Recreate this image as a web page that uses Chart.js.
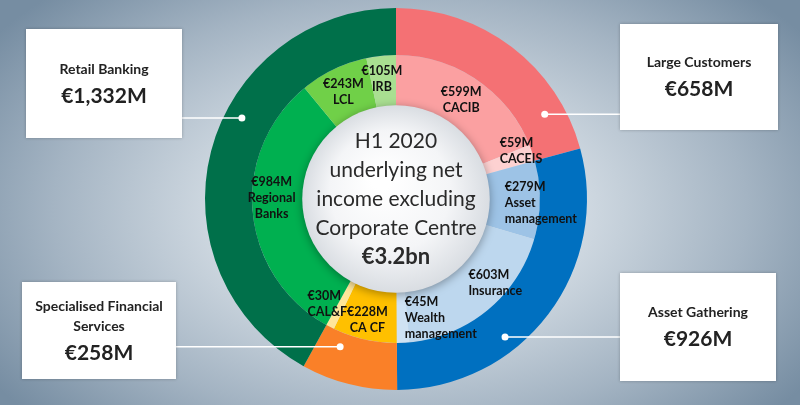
<!DOCTYPE html>
<html lang="en">
<head>
    <meta charset="UTF-8">
    <title>H1 2020 underlying net income</title>
    <script src="https://cdn.jsdelivr.net/npm/chart.js"></script>
    <style>
        html, body { margin: 0; padding: 0; }
        body {
            width: 800px; height: 405px; overflow: hidden; position: relative;
            font-family: Lato, "Open Sans", sans-serif;
            background: radial-gradient(ellipse 62% 75% at 50% 52%, #e4eaef 0%, #d2dbe3 35%, #a4b4c3 70%, #768da2 100%);
        }
        #chart { position: absolute; left: 0; top: 0; }
        .box {
            position: absolute; background: #fff; color: #222;
            box-shadow: 0 0 3px rgba(0,0,0,0.25);
            display: flex; flex-direction: column; justify-content: center; align-items: center;
            text-align: center;
        }
        .box .title { font-size: 14px; font-weight: bold; line-height: 20px; }
        .box .value { font-size: 21px; font-weight: bold; line-height: 28px; margin-top: 2px; }
        #centre {
            position: absolute; left: 296px; width: 200px; top: 125px;
            text-align: center; color: #2a2a2a; font-size: 21px; line-height: 29px;
        }
        #centre b { font-size: 22px; }
    </style>
</head>
<body>
    <canvas id="chart" width="800" height="405"></canvas>
    <div id="boxes"></div>
    <div id="centre">H1 2020<br>underlying net<br>income excluding<br>Corporate Centre<br><b>€3.2bn</b></div>
    <script>
        // outer ring: business divisions
        const divisions = ['Large Customers', 'Asset Gathering', 'Specialised Financial Services', 'Retail Banking'];
        const divisionValues = [658, 926, 258, 1332];
        const divisionText = ['€658M', '€926M', '€258M', '€1,332M'];

        // inner ring: business lines
        const lines = ['CACIB', 'CACEIS', 'Asset management', 'Insurance', 'Wealth management', 'CA CF', 'CAL&F', 'Regional Banks', 'LCL', 'IRB'];
        const lineValues = [599, 59, 279, 603, 45, 228, 30, 984, 243, 105];

        const divisionColors = ['#F47174', '#0070C0', '#FA8028', '#00704A'];
        const lineColors = ['#FBA0A1', '#FDD1D1', '#9DC3E6', '#BDD7EE', '#CFE2F3', '#FFC000', '#FFE699', '#00B050', '#70D048', '#A9DF91'];

        // label nudges from the slice centroid (dx, dy, align)
        const lineLabelPos = [
            [0, -2, 'center'], [-7, -11, 'left'], [-8, 3, 'left'], [-2, -6, 'left'], [3, 2, 'left'],
            [-3, 7, 'center'], [-35, 1, 'left'], [-8, -12, 'center'], [-2, -2, 'center'], [-2, -4, 'center']
        ];
        // boxes: left, top, width, height, dot angle (deg from top), dot position across the ring, title lines
        const boxLayout = [
            { l: 620, t: 24, w: 158, h: 106, angle: 60.3, f: 0.58, title: ['Large Customers'] },
            { l: 620, t: 273, w: 156, h: 108, angle: 141.7, f: 0.68, title: ['Asset Gathering'] },
            { l: 22, t: 282, w: 154, h: 97, angle: 200.7, f: 0.3, title: ['Specialised Financial', 'Services'] },
            { l: 26, t: 29, w: 156, h: 109, angle: 297.7, f: 0.64, title: ['Retail Banking'] }
        ];

        const boxHolder = document.getElementById('boxes');
        boxLayout.forEach((b, i) => {
            const d = document.createElement('div');
            d.className = 'box';
            d.style.left = b.l + 'px'; d.style.top = b.t + 'px';
            d.style.width = b.w + 'px'; d.style.height = b.h + 'px';
            d.innerHTML = b.title.map(t => `<div class="title">${t}</div>`).join('') +
                `<div class="value">${divisionText[i]}</div>`;
            boxHolder.appendChild(d);
        });

        const decorations = {
            id: 'decorations',
            afterDatasetsDraw(chart) {
                const ctx = chart.ctx;
                const outer = chart.getDatasetMeta(0).data;
                const inner = chart.getDatasetMeta(1).data;
                const cx = outer[0].x, cy = outer[0].y;

                // centre disc
                const r = inner[0].innerRadius + 4;
                ctx.save();
                ctx.shadowColor = 'rgba(0,0,0,0.35)';
                ctx.shadowBlur = 10;
                ctx.shadowOffsetY = 2;
                const g = ctx.createRadialGradient(cx - 15, cy - 20, 10, cx, cy, r);
                g.addColorStop(0, '#ffffff');
                g.addColorStop(0.6, '#f4f5f7');
                g.addColorStop(1, '#d9dde2');
                ctx.fillStyle = g;
                ctx.beginPath();
                ctx.arc(cx, cy, r, 0, Math.PI * 2);
                ctx.fill();
                ctx.restore();

                // slice labels
                ctx.save();
                ctx.fillStyle = '#111';
                ctx.font = 'bold 12.5px Lato, sans-serif';
                ctx.textBaseline = 'middle';
                inner.forEach((el, i) => {
                    const p = el.tooltipPosition();
                    const [dx, dy, align] = lineLabelPos[i];
                    const rows = ['€' + lineValues[i] + 'M'].concat(lines[i] === 'CA CF' ? ['CA CF'] : lines[i].split(' '));
                    ctx.textAlign = align;
                    const y0 = p.y + dy - (rows.length - 1) * 16 / 2;
                    rows.forEach((t, k) => ctx.fillText(t, p.x + dx, y0 + k * 16));
                });
                ctx.restore();

                // connectors
                ctx.save();
                ctx.strokeStyle = '#fff';
                ctx.fillStyle = '#fff';
                ctx.lineWidth = 1.5;
                boxLayout.forEach((b, i) => {
                    const el = outer[i];
                    const rad = el.innerRadius + b.f * (el.outerRadius - el.innerRadius);
                    const a = b.angle * Math.PI / 180;
                    const x = cx + rad * Math.sin(a), y = cy - rad * Math.cos(a);
                    const edge = x > cx ? b.l : b.l + b.w;
                    ctx.beginPath();
                    ctx.moveTo(x, y);
                    ctx.lineTo(edge, y);
                    ctx.stroke();
                    ctx.beginPath();
                    ctx.arc(x, y, 3.5, 0, Math.PI * 2);
                    ctx.fill();
                });
                ctx.restore();
            }
        };

        new Chart(document.getElementById('chart').getContext('2d'), {
            type: 'doughnut',
            data: {
                labels: lines,
                datasets: [{
                    label: 'Divisions',
                    data: divisionValues,
                    backgroundColor: divisionColors,
                    borderWidth: 0,
                    weight: 47
                }, {
                    label: 'Business lines',
                    data: lineValues,
                    backgroundColor: lineColors,
                    borderWidth: 0,
                    weight: 54
                }]
            },
            options: {
                responsive: false,
                animation: false,
                events: [],
                cutout: '47%',
                layout: { padding: { left: 205, right: 213, top: 8, bottom: 15 } },
                plugins: {
                    legend: { display: false },
                    tooltip: { enabled: false }
                }
            },
            plugins: [decorations]
        });
    </script>
</body>
</html>
